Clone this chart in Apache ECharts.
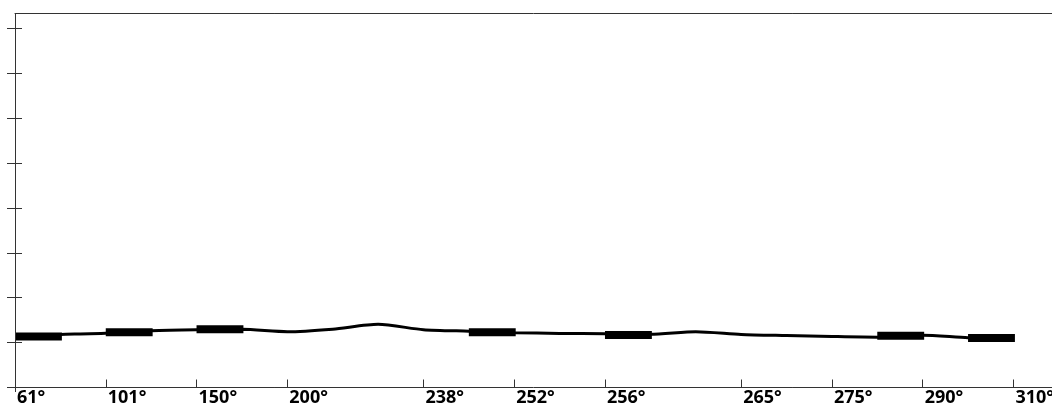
<!DOCTYPE html>
<html><head><meta charset="utf-8">
<script src="https://cdn.jsdelivr.net/npm/echarts@6/dist/echarts.min.js"></script>
<style>html,body{margin:0;padding:0;background:#fff}#c{width:1052px;height:405px}</style>
</head><body><div id="c"></div>
<script>
// sample index along the route (half steps between labelled headings)
const sampleIndex = [0,1,2,3,4,5,6,7,8,9,10,11,12,13,14,15,16,17,18,19,20,21,22];
const lineValues = [1.154,1.183,1.21,1.266,1.288,1.295,1.243,1.30,1.406,1.288,1.254,1.221,1.205,1.199,1.188,1.243,1.183,1.158,1.136,1.121,1.165,1.109,1.098];
// labelled headings and the sample index where each sits
const tickIndex = [0,2,4,6,9,11,13,16,18,20,22];
const tickLabels = ['61°','101°','150°','200°','238°','252°','256°','265°','275°','290°','310°'];
// thick segments: start sample, value
const barStart = [0,2,4,10,13,19,21];
const barValues = [1.136,1.228,1.295,1.228,1.172,1.150,1.105];
const yTicks = [0,1,2,3,4,5,6,7,8];

const X_MAX = 22.85, Y_MIN = -0.1, Y_MAX = 8.34;
const axisCol = '#333';

const chart = echarts.init(document.getElementById('c'), null, {renderer:'canvas'});
chart.setOption({
  animation:false,
  grid:{left:15,right:0,top:13,bottom:13, containLabel:false, outerBoundsMode:'none'},
  xAxis:[{
    type:'value', min:0, max:X_MAX,
    axisLine:{show:true, onZero:true, lineStyle:{color:axisCol,width:1}},
    axisTick:{show:true, inside:true, length:8, customValues:tickIndex, lineStyle:{color:axisCol,width:1}},
    axisLabel:{show:true, customValues:tickIndex, align:'left', verticalAlign:'top', margin:-3, padding:[0,0,0,2],
      fontFamily:'Open Sans', fontWeight:'bold', fontSize:18, lineHeight:18, color:'#000',
      formatter:v=>tickLabels[tickIndex.indexOf(v)]},
    splitLine:{show:false}
  },{
    type:'value', position:'top', min:0, max:X_MAX,
    axisLine:{show:true, onZero:false, lineStyle:{color:axisCol,width:1}},
    axisTick:{show:false}, axisLabel:{show:false}, splitLine:{show:false}
  }],
  yAxis:[{
    type:'value', position:'left', offset:-7, min:Y_MIN, max:Y_MAX,
    axisLine:{show:false, onZero:false},
    axisTick:{show:true, inside:false, length:15, customValues:yTicks, lineStyle:{color:axisCol,width:1}},
    axisLabel:{show:false}, splitLine:{show:false}
  }],
  series:[{
    type:'line', xAxisIndex:0, yAxisIndex:0,
    data: sampleIndex.map((x,i)=>[x, lineValues[i]]),
    smooth:0.25, symbol:'none',
    lineStyle:{color:'#000', width:3}, z:2,
    markLine:{silent:true, symbol:'none', label:{show:false},
      lineStyle:{color:axisCol, width:1, type:'solid'},
      data:[{xAxis:0}]}
  },{
    type:'custom', xAxisIndex:0, yAxisIndex:0, clip:false, z:3,
    data: barStart.map((s,i)=>[s, s+1, barValues[i]]),
    encode:{x:[0,1], y:2},
    renderItem:function(params, api){
      const s = api.coord([api.value(0), api.value(2)]);
      const e = api.coord([api.value(1), api.value(2)]);
      return {type:'rect', shape:{x:s[0], y:s[1]-4, width:e[0]-s[0]+1.5, height:8}, style:{fill:'#000'}};
    }
  }]
});
</script>
</body></html>
